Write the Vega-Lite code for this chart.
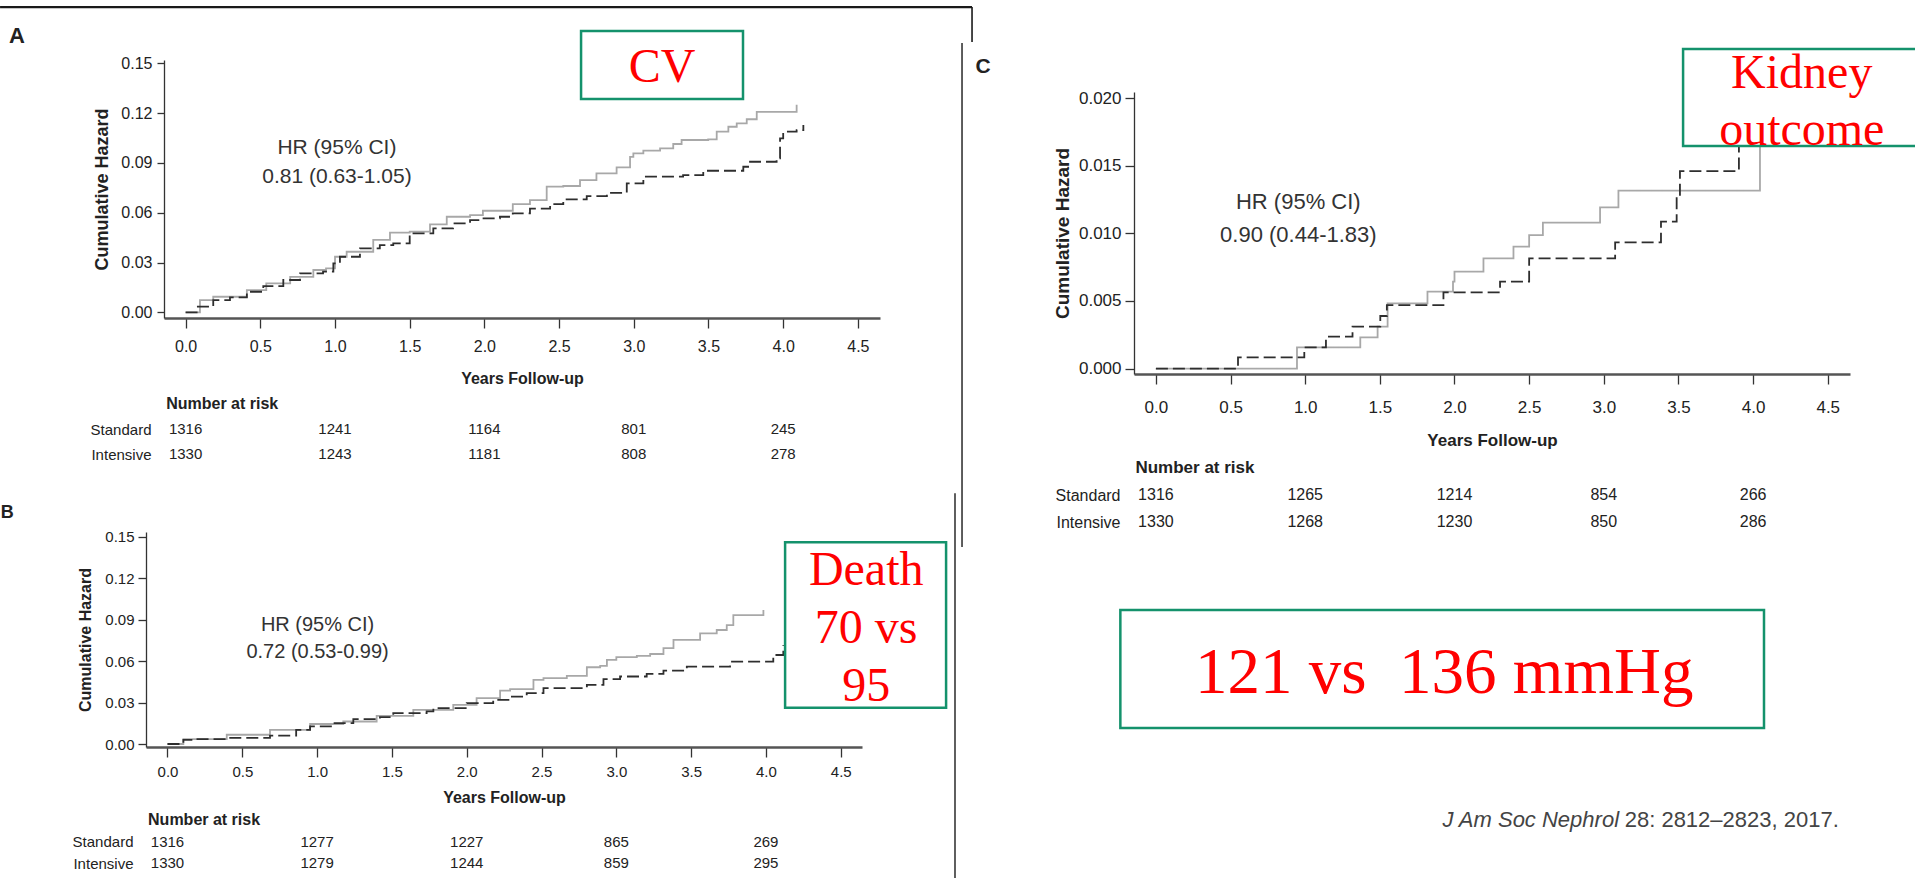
{
  "$schema": "https://vega.github.io/schema/vega-lite/v6.json",
  "width": 1915,
  "height": 878,
  "autosize": {"type": "none"},
  "padding": 0,
  "background": "#ffffff",
  "config": {
    "view": {"stroke": null},
    "font": "Liberation Sans",
    "axis": {"grid": false, "labelFont": "Liberation Sans", "titleFont": "Liberation Sans", "labelColor": "#222222", "titleColor": "#222222", "tickColor": "#333333", "domainColor": "#333333", "labelFlush": false, "labelOverlap": false}
  },
  "datasets": {
    "km": [
      {"p":"A","arm":"Standard","t":0,"h":0},{"p":"A","arm":"Standard","t":0.096,"h":0.0074},{"p":"A","arm":"Standard","t":0.185,"h":0.0094},{"p":"A","arm":"Standard","t":0.41,"h":0.0134},{"p":"A","arm":"Standard","t":0.54,"h":0.0175},{"p":"A","arm":"Standard","t":0.7,"h":0.0214},{"p":"A","arm":"Standard","t":0.855,"h":0.0255},{"p":"A","arm":"Standard","t":0.94,"h":0.0265},{"p":"A","arm":"Standard","t":1.0,"h":0.0335},{"p":"A","arm":"Standard","t":1.078,"h":0.0365},{"p":"A","arm":"Standard","t":1.256,"h":0.0436},{"p":"A","arm":"Standard","t":1.368,"h":0.048},{"p":"A","arm":"Standard","t":1.5,"h":0.0486},{"p":"A","arm":"Standard","t":1.636,"h":0.053},{"p":"A","arm":"Standard","t":1.748,"h":0.0576},{"p":"A","arm":"Standard","t":1.904,"h":0.0586},{"p":"A","arm":"Standard","t":1.99,"h":0.0612},{"p":"A","arm":"Standard","t":2.19,"h":0.0652},{"p":"A","arm":"Standard","t":2.305,"h":0.0676},{"p":"A","arm":"Standard","t":2.417,"h":0.0757},{"p":"A","arm":"Standard","t":2.528,"h":0.0761},{"p":"A","arm":"Standard","t":2.64,"h":0.0797},{"p":"A","arm":"Standard","t":2.75,"h":0.0837},{"p":"A","arm":"Standard","t":2.885,"h":0.0873},{"p":"A","arm":"Standard","t":2.975,"h":0.0937},{"p":"A","arm":"Standard","t":2.997,"h":0.0958},{"p":"A","arm":"Standard","t":3.064,"h":0.0974},{"p":"A","arm":"Standard","t":3.176,"h":0.0988},{"p":"A","arm":"Standard","t":3.264,"h":0.1014},{"p":"A","arm":"Standard","t":3.32,"h":0.1038},{"p":"A","arm":"Standard","t":3.498,"h":0.1042},{"p":"A","arm":"Standard","t":3.555,"h":0.1088},{"p":"A","arm":"Standard","t":3.633,"h":0.1118},{"p":"A","arm":"Standard","t":3.689,"h":0.1138},{"p":"A","arm":"Standard","t":3.756,"h":0.1163},{"p":"A","arm":"Standard","t":3.823,"h":0.1208},{"p":"A","arm":"Standard","t":4.09,"h":0.1208},{"p":"A","arm":"Standard","t":4.09,"h":0.125},
      {"p":"A","arm":"Intensive","t":0,"h":0},{"p":"A","arm":"Intensive","t":0.074,"h":0.0034},{"p":"A","arm":"Intensive","t":0.185,"h":0.0074},{"p":"A","arm":"Intensive","t":0.297,"h":0.009},{"p":"A","arm":"Intensive","t":0.41,"h":0.0124},{"p":"A","arm":"Intensive","t":0.52,"h":0.0158},{"p":"A","arm":"Intensive","t":0.654,"h":0.0195},{"p":"A","arm":"Intensive","t":0.766,"h":0.0235},{"p":"A","arm":"Intensive","t":0.92,"h":0.0245},{"p":"A","arm":"Intensive","t":0.989,"h":0.0295},{"p":"A","arm":"Intensive","t":1.033,"h":0.0335},{"p":"A","arm":"Intensive","t":1.167,"h":0.0385},{"p":"A","arm":"Intensive","t":1.3,"h":0.0405},{"p":"A","arm":"Intensive","t":1.39,"h":0.0415},{"p":"A","arm":"Intensive","t":1.5,"h":0.0476},{"p":"A","arm":"Intensive","t":1.658,"h":0.0506},{"p":"A","arm":"Intensive","t":1.79,"h":0.0536},{"p":"A","arm":"Intensive","t":1.904,"h":0.0556},{"p":"A","arm":"Intensive","t":1.97,"h":0.0566},{"p":"A","arm":"Intensive","t":2.104,"h":0.0576},{"p":"A","arm":"Intensive","t":2.19,"h":0.0596},{"p":"A","arm":"Intensive","t":2.305,"h":0.0625},{"p":"A","arm":"Intensive","t":2.44,"h":0.0652},{"p":"A","arm":"Intensive","t":2.528,"h":0.068},{"p":"A","arm":"Intensive","t":2.685,"h":0.07},{"p":"A","arm":"Intensive","t":2.82,"h":0.072},{"p":"A","arm":"Intensive","t":2.953,"h":0.0777},{"p":"A","arm":"Intensive","t":3.064,"h":0.0817},{"p":"A","arm":"Intensive","t":3.33,"h":0.0827},{"p":"A","arm":"Intensive","t":3.465,"h":0.0853},{"p":"A","arm":"Intensive","t":3.733,"h":0.0877},{"p":"A","arm":"Intensive","t":3.778,"h":0.0907},{"p":"A","arm":"Intensive","t":3.956,"h":0.0928},{"p":"A","arm":"Intensive","t":3.979,"h":0.1048},{"p":"A","arm":"Intensive","t":4.0,"h":0.1088},{"p":"A","arm":"Intensive","t":4.09,"h":0.1098},{"p":"A","arm":"Intensive","t":4.135,"h":0.1128},
      {"p":"B","arm":"Standard","t":0,"h":0},{"p":"B","arm":"Standard","t":0.106,"h":0.0036},{"p":"B","arm":"Standard","t":0.396,"h":0.0067},{"p":"B","arm":"Standard","t":0.685,"h":0.0103},{"p":"B","arm":"Standard","t":0.953,"h":0.0145},{"p":"B","arm":"Standard","t":1.175,"h":0.0163},{"p":"B","arm":"Standard","t":1.398,"h":0.0204},{"p":"B","arm":"Standard","t":1.643,"h":0.0248},{"p":"B","arm":"Standard","t":1.91,"h":0.0284},{"p":"B","arm":"Standard","t":2.066,"h":0.0332},{"p":"B","arm":"Standard","t":2.223,"h":0.0387},{"p":"B","arm":"Standard","t":2.29,"h":0.0397},{"p":"B","arm":"Standard","t":2.446,"h":0.0465},{"p":"B","arm":"Standard","t":2.513,"h":0.0477},{"p":"B","arm":"Standard","t":2.669,"h":0.0494},{"p":"B","arm":"Standard","t":2.803,"h":0.0556},{"p":"B","arm":"Standard","t":2.892,"h":0.0566},{"p":"B","arm":"Standard","t":2.937,"h":0.061},{"p":"B","arm":"Standard","t":3.0,"h":0.0629},{"p":"B","arm":"Standard","t":3.137,"h":0.0638},{"p":"B","arm":"Standard","t":3.226,"h":0.0652},{"p":"B","arm":"Standard","t":3.315,"h":0.0694},{"p":"B","arm":"Standard","t":3.382,"h":0.0754},{"p":"B","arm":"Standard","t":3.56,"h":0.0802},{"p":"B","arm":"Standard","t":3.671,"h":0.0826},{"p":"B","arm":"Standard","t":3.738,"h":0.0862},{"p":"B","arm":"Standard","t":3.782,"h":0.0934},{"p":"B","arm":"Standard","t":3.983,"h":0.0934},{"p":"B","arm":"Standard","t":3.983,"h":0.097},
      {"p":"B","arm":"Intensive","t":0,"h":0},{"p":"B","arm":"Intensive","t":0.106,"h":0.003},{"p":"B","arm":"Intensive","t":0.172,"h":0.0036},{"p":"B","arm":"Intensive","t":0.396,"h":0.0045},{"p":"B","arm":"Intensive","t":0.685,"h":0.006},{"p":"B","arm":"Intensive","t":0.86,"h":0.0103},{"p":"B","arm":"Intensive","t":0.953,"h":0.0128},{"p":"B","arm":"Intensive","t":1.108,"h":0.0151},{"p":"B","arm":"Intensive","t":1.242,"h":0.018},{"p":"B","arm":"Intensive","t":1.42,"h":0.0195},{"p":"B","arm":"Intensive","t":1.509,"h":0.0224},{"p":"B","arm":"Intensive","t":1.732,"h":0.0236},{"p":"B","arm":"Intensive","t":1.777,"h":0.026},{"p":"B","arm":"Intensive","t":2.0,"h":0.0296},{"p":"B","arm":"Intensive","t":2.177,"h":0.032},{"p":"B","arm":"Intensive","t":2.29,"h":0.0344},{"p":"B","arm":"Intensive","t":2.401,"h":0.0368},{"p":"B","arm":"Intensive","t":2.513,"h":0.0405},{"p":"B","arm":"Intensive","t":2.803,"h":0.0428},{"p":"B","arm":"Intensive","t":2.914,"h":0.047},{"p":"B","arm":"Intensive","t":3.025,"h":0.0489},{"p":"B","arm":"Intensive","t":3.203,"h":0.0508},{"p":"B","arm":"Intensive","t":3.315,"h":0.0532},{"p":"B","arm":"Intensive","t":3.471,"h":0.0561},{"p":"B","arm":"Intensive","t":3.76,"h":0.0597},{"p":"B","arm":"Intensive","t":4.049,"h":0.0645},{"p":"B","arm":"Intensive","t":4.116,"h":0.0717},
      {"p":"C","arm":"Standard","t":0,"h":0},{"p":"C","arm":"Standard","t":0.945,"h":0.00157},{"p":"C","arm":"Standard","t":1.369,"h":0.00231},{"p":"C","arm":"Standard","t":1.485,"h":0.0031},{"p":"C","arm":"Standard","t":1.552,"h":0.00483},{"p":"C","arm":"Standard","t":1.819,"h":0.00569},{"p":"C","arm":"Standard","t":1.99,"h":0.00643},{"p":"C","arm":"Standard","t":2.0,"h":0.00717},{"p":"C","arm":"Standard","t":2.194,"h":0.00816},{"p":"C","arm":"Standard","t":2.395,"h":0.00902},{"p":"C","arm":"Standard","t":2.5,"h":0.00988},{"p":"C","arm":"Standard","t":2.592,"h":0.0108},{"p":"C","arm":"Standard","t":2.975,"h":0.01193},{"p":"C","arm":"Standard","t":3.098,"h":0.01316},{"p":"C","arm":"Standard","t":4.046,"h":0.0178},
      {"p":"C","arm":"Intensive","t":0,"h":0},{"p":"C","arm":"Intensive","t":0.55,"h":0.00083},{"p":"C","arm":"Intensive","t":0.994,"h":0.00157},{"p":"C","arm":"Intensive","t":1.139,"h":0.00236},{"p":"C","arm":"Intensive","t":1.317,"h":0.0031},{"p":"C","arm":"Intensive","t":1.503,"h":0.00389},{"p":"C","arm":"Intensive","t":1.547,"h":0.0047},{"p":"C","arm":"Intensive","t":1.926,"h":0.00564},{"p":"C","arm":"Intensive","t":2.305,"h":0.00643},{"p":"C","arm":"Intensive","t":2.5,"h":0.00816},{"p":"C","arm":"Intensive","t":3.076,"h":0.00934},{"p":"C","arm":"Intensive","t":3.383,"h":0.01087},{"p":"C","arm":"Intensive","t":3.488,"h":0.01271},{"p":"C","arm":"Intensive","t":3.51,"h":0.01461},{"p":"C","arm":"Intensive","t":3.905,"h":0.0172}
    ],
    "risk": [
      {"p":"A","arm":"Standard","t":0,"n":1316},{"p":"A","arm":"Standard","t":1,"n":1241},{"p":"A","arm":"Standard","t":2,"n":1164},{"p":"A","arm":"Standard","t":3,"n":801},{"p":"A","arm":"Standard","t":4,"n":245},
      {"p":"A","arm":"Intensive","t":0,"n":1330},{"p":"A","arm":"Intensive","t":1,"n":1243},{"p":"A","arm":"Intensive","t":2,"n":1181},{"p":"A","arm":"Intensive","t":3,"n":808},{"p":"A","arm":"Intensive","t":4,"n":278},
      {"p":"B","arm":"Standard","t":0,"n":1316},{"p":"B","arm":"Standard","t":1,"n":1277},{"p":"B","arm":"Standard","t":2,"n":1227},{"p":"B","arm":"Standard","t":3,"n":865},{"p":"B","arm":"Standard","t":4,"n":269},
      {"p":"B","arm":"Intensive","t":0,"n":1330},{"p":"B","arm":"Intensive","t":1,"n":1279},{"p":"B","arm":"Intensive","t":2,"n":1244},{"p":"B","arm":"Intensive","t":3,"n":859},{"p":"B","arm":"Intensive","t":4,"n":295},
      {"p":"C","arm":"Standard","t":0,"n":1316},{"p":"C","arm":"Standard","t":1,"n":1265},{"p":"C","arm":"Standard","t":2,"n":1214},{"p":"C","arm":"Standard","t":3,"n":854},{"p":"C","arm":"Standard","t":4,"n":266},
      {"p":"C","arm":"Intensive","t":0,"n":1330},{"p":"C","arm":"Intensive","t":1,"n":1268},{"p":"C","arm":"Intensive","t":2,"n":1230},{"p":"C","arm":"Intensive","t":3,"n":850},{"p":"C","arm":"Intensive","t":4,"n":286}
    ]
  },
  "layer": [
    {
      "layer": [
        {
          "layer": [
            {
              "data": {"name": "km"},
              "transform": [{"filter": "datum.p === 'A'"}],
              "mark": {"type": "line", "interpolate": "step-after", "strokeWidth": 1.8},
              "encoding": {
                "x": {"field": "t", "type": "quantitative", "scale": {"domain": [-0.1446, 4.648], "range": [164, 880], "nice": false, "zero": false},
                  "axis": {"orient": "bottom", "offset": -560, "values": [0,0.5,1,1.5,2,2.5,3,3.5,4,4.5], "format": ".1f", "title": "Years Follow-up", "titleFontWeight": "bold", "titleFontSize": 16, "titlePadding": 16, "labelFontSize": 16, "labelPadding": 10, "tickSize": 10, "tickWidth": 1.3, "domainColor": "#555555", "domainWidth": 2.5}},
                "y": {"field": "h", "type": "quantitative", "scale": {"domain": [-0.0034, 0.152], "range": [318, 60], "nice": false, "zero": false},
                  "axis": {"orient": "left", "offset": -164, "values": [0,0.03,0.06,0.09,0.12,0.15], "format": ".2f", "title": "Cumulative Hazard", "titleFontWeight": "bold", "titleFontSize": 18, "titlePadding": 9, "labelFontSize": 16, "labelPadding": 5, "tickSize": 7, "tickWidth": 1.3, "domainWidth": 1.3}},
                "color": {"field": "arm", "type": "nominal", "scale": {"domain": ["Standard","Intensive"], "range": ["#a8a8a8","#2e2e2e"]}, "legend": null},
                "strokeDash": {"field": "arm", "type": "nominal", "scale": {"domain": ["Standard","Intensive"], "range": [[1,0],[12,5]]}, "legend": null}
              }
            },
            {"data": {"values": [{}]}, "mark": {"type": "text", "fontSize": 21, "color": "#333333", "lineHeight": 29, "baseline": "middle", "align": "center"},
              "encoding": {"x": {"datum": 1.013}, "y": {"datum": 0.099}, "text": {"value": ["HR (95% CI)", "0.81 (0.63-1.05)"]}}},
            {"data": {"values": [{}]}, "mark": {"type": "rect", "fill": "#ffffff", "stroke": "#14926c", "strokeWidth": 2.5},
              "encoding": {"x": {"datum": 2.647}, "x2": {"datum": 3.731}, "y": {"datum": 0.1695}, "y2": {"datum": 0.1285}}},
            {"data": {"values": [{}]}, "mark": {"type": "text", "font": "Liberation Serif", "fontSize": 48, "color": "#ff0000", "baseline": "alphabetic", "align": "center"},
              "encoding": {"x": {"datum": 3.19}, "y": {"datum": 0.1387}, "text": {"value": "CV"}}},
            {"data": {"values": [{}]}, "mark": {"type": "text", "fontSize": 22, "fontWeight": "bold", "color": "#222222", "baseline": "alphabetic", "align": "left"},
              "encoding": {"x": {"datum": -1.182}, "y": {"datum": 0.1622}, "text": {"value": "A"}}},
            {"data": {"values": [{}]}, "mark": {"type": "rule", "color": "#1a1a1a", "strokeWidth": 2.2},
              "encoding": {"x": {"datum": -1.242}, "x2": {"datum": 5.264}, "y": {"datum": 0.1839}}},
            {"data": {"values": [{}]}, "mark": {"type": "rule", "color": "#1a1a1a", "strokeWidth": 1.6},
              "encoding": {"x": {"datum": 5.264}, "y": {"datum": 0.1839}, "y2": {"datum": 0.1628}}},
            {"data": {"values": [{}]}, "mark": {"type": "rule", "color": "#1a1a1a", "strokeWidth": 1.4},
              "encoding": {"x": {"datum": 5.197}, "y": {"datum": 0.1622}, "y2": {"datum": -0.1414}}},
            {"data": {"values": [{}]}, "mark": {"type": "rule", "color": "#1a1a1a", "strokeWidth": 1.4},
              "encoding": {"x": {"datum": 5.15}, "y": {"datum": -0.1089}, "y2": {"datum": -0.3408}}}
          ]
        },
        {
          "layer": [
            {
              "data": {"name": "risk"},
              "transform": [{"filter": "datum.p === 'A'"}],
              "mark": {"type": "text", "fontSize": 15, "color": "#222222", "baseline": "middle", "align": "center"},
              "encoding": {
                "x": {"field": "t", "type": "quantitative"},
                "y": {"field": "arm", "type": "nominal", "scale": {"type": "point", "domain": ["Number at risk","Standard","Intensive"], "range": [404, 454], "padding": 0},
                  "axis": {"orient": "left", "offset": -164, "values": ["Standard","Intensive"], "title": null, "domain": false, "ticks": false, "tickSize": 0, "labelPadding": 13, "labelFontSize": 15}},
                "text": {"field": "n", "type": "quantitative"}
              }
            },
            {"data": {"values": [{}]}, "mark": {"type": "text", "fontSize": 16, "fontWeight": "bold", "color": "#222222", "baseline": "middle", "align": "left"},
              "encoding": {"x": {"datum": -0.13}, "y": {"datum": "Number at risk", "type": "nominal"}, "text": {"value": "Number at risk"}}}
          ]
        }
      ],
      "resolve": {"scale": {"y": "independent"}, "axis": {"y": "independent"}}
    },
    {
      "layer": [
        {
          "layer": [
            {
              "data": {"name": "km"},
              "transform": [{"filter": "datum.p === 'B'"}],
              "mark": {"type": "line", "interpolate": "step-after", "strokeWidth": 1.8},
              "encoding": {
                "x": {"field": "t", "type": "quantitative", "scale": {"domain": [-0.1437, 4.642], "range": [146, 862], "nice": false, "zero": false},
                  "axis": {"orient": "bottom", "offset": -131, "values": [0,0.5,1,1.5,2,2.5,3,3.5,4,4.5], "format": ".1f", "title": "Years Follow-up", "titleFontWeight": "bold", "titleFontSize": 16, "titlePadding": 10, "labelFontSize": 15, "labelPadding": 7, "tickSize": 10, "tickWidth": 1.3, "domainColor": "#555555", "domainWidth": 2.5}},
                "y": {"field": "h", "type": "quantitative", "scale": {"domain": [-0.00217, 0.1536], "range": [747, 532], "nice": false, "zero": false},
                  "axis": {"orient": "left", "offset": -146, "values": [0,0.03,0.06,0.09,0.12,0.15], "format": ".2f", "title": "Cumulative Hazard", "titleFontWeight": "bold", "titleFontSize": 16, "titlePadding": 11, "labelFontSize": 15, "labelPadding": 4, "tickSize": 8, "tickWidth": 1.3, "domainWidth": 1.3}},
                "color": {"field": "arm", "type": "nominal", "scale": {"domain": ["Standard","Intensive"], "range": ["#a8a8a8","#2e2e2e"]}, "legend": null},
                "strokeDash": {"field": "arm", "type": "nominal", "scale": {"domain": ["Standard","Intensive"], "range": [[1,0],[12,5]]}, "legend": null}
              }
            },
            {"data": {"values": [{}]}, "mark": {"type": "text", "fontSize": 20, "color": "#333333", "lineHeight": 27, "baseline": "middle", "align": "center"},
              "encoding": {"x": {"datum": 1.003}, "y": {"datum": 0.0862}, "text": {"value": ["HR (95% CI)", "0.72 (0.53-0.99)"]}}},
            {"data": {"values": [{}]}, "mark": {"type": "rect", "fill": "#ffffff", "stroke": "#14926c", "strokeWidth": 2.5},
              "encoding": {"x": {"datum": 4.128}, "x2": {"datum": 5.204}, "y": {"datum": 0.1462}, "y2": {"datum": 0.0262}}},
            {"data": {"values": [{}]}, "mark": {"type": "text", "font": "Liberation Serif", "fontSize": 48, "color": "#ff0000", "baseline": "alphabetic", "align": "center"},
              "encoding": {"x": {"datum": 4.67}, "y": {"datum": 0.1151}, "text": {"value": "Death"}}},
            {"data": {"values": [{}]}, "mark": {"type": "text", "font": "Liberation Serif", "fontSize": 48, "color": "#ff0000", "baseline": "alphabetic", "align": "center"},
              "encoding": {"x": {"datum": 4.67}, "y": {"datum": 0.0732}, "text": {"value": "70 vs"}}},
            {"data": {"values": [{}]}, "mark": {"type": "text", "font": "Liberation Serif", "fontSize": 48, "color": "#ff0000", "baseline": "alphabetic", "align": "center"},
              "encoding": {"x": {"datum": 4.67}, "y": {"datum": 0.0313}, "text": {"value": "95"}}},
            {"data": {"values": [{}]}, "mark": {"type": "text", "fontSize": 18, "fontWeight": "bold", "color": "#222222", "baseline": "alphabetic", "align": "left"},
              "encoding": {"x": {"datum": -1.115}, "y": {"datum": 0.1635}, "text": {"value": "B"}}}
          ]
        },
        {
          "layer": [
            {
              "data": {"name": "risk"},
              "transform": [{"filter": "datum.p === 'B'"}],
              "mark": {"type": "text", "fontSize": 15, "color": "#222222", "baseline": "middle", "align": "center"},
              "encoding": {
                "x": {"field": "t", "type": "quantitative"},
                "y": {"field": "arm", "type": "nominal", "scale": {"type": "point", "domain": ["Number at risk","Standard","Intensive"], "range": [820, 863], "padding": 0},
                  "axis": {"orient": "left", "offset": -146, "values": ["Standard","Intensive"], "title": null, "domain": false, "ticks": false, "tickSize": 0, "labelPadding": 13, "labelFontSize": 15}},
                "text": {"field": "n", "type": "quantitative"}
              }
            },
            {"data": {"values": [{}]}, "mark": {"type": "text", "fontSize": 16, "fontWeight": "bold", "color": "#222222", "baseline": "middle", "align": "left"},
              "encoding": {"x": {"datum": -0.13}, "y": {"datum": "Number at risk", "type": "nominal"}, "text": {"value": "Number at risk"}}}
          ]
        }
      ],
      "resolve": {"scale": {"y": "independent"}, "axis": {"y": "independent"}}
    },
    {
      "layer": [
        {
          "layer": [
            {
              "data": {"name": "km"},
              "transform": [{"filter": "datum.p === 'C'"}],
              "mark": {"type": "line", "interpolate": "step-after", "strokeWidth": 1.8},
              "encoding": {
                "x": {"field": "t", "type": "quantitative", "scale": {"domain": [-0.1466, 4.649], "range": [1134, 1850], "nice": false, "zero": false},
                  "axis": {"orient": "bottom", "offset": -504, "values": [0,0.5,1,1.5,2,2.5,3,3.5,4,4.5], "format": ".1f", "title": "Years Follow-up", "titleFontWeight": "bold", "titleFontSize": 17, "titlePadding": 17, "labelFontSize": 17, "labelPadding": 15, "tickSize": 10, "tickWidth": 1.3, "domainColor": "#555555", "domainWidth": 2.5}},
                "y": {"field": "h", "type": "quantitative", "scale": {"domain": [-0.0004, 0.02046], "range": [374, 92], "nice": false, "zero": false},
                  "axis": {"orient": "left", "offset": -1134, "values": [0,0.005,0.01,0.015,0.02], "format": ".3f", "title": "Cumulative Hazard", "titleFontWeight": "bold", "titleFontSize": 19, "titlePadding": 6, "labelFontSize": 17, "labelPadding": 4, "tickSize": 9, "tickWidth": 1.3, "domainWidth": 1.3}},
                "color": {"field": "arm", "type": "nominal", "scale": {"domain": ["Standard","Intensive"], "range": ["#a8a8a8","#2e2e2e"]}, "legend": null},
                "strokeDash": {"field": "arm", "type": "nominal", "scale": {"domain": ["Standard","Intensive"], "range": [[1,0],[12,5]]}, "legend": null}
              }
            },
            {"data": {"values": [{}]}, "mark": {"type": "text", "fontSize": 22, "color": "#333333", "lineHeight": 33, "baseline": "middle", "align": "center"},
              "encoding": {"x": {"datum": 0.954}, "y": {"datum": 0.01232}, "text": {"value": ["HR (95% CI)", "0.90 (0.44-1.83)"]}}},
            {"data": {"values": [{}]}, "mark": {"type": "rect", "fill": "#ffffff", "stroke": "#14926c", "strokeWidth": 2.5},
              "encoding": {"x": {"datum": 3.531}, "x2": {"datum": 5.4}, "y": {"datum": 0.02364}, "y2": {"datum": 0.01646}}},
            {"data": {"values": [{}]}, "mark": {"type": "text", "font": "Liberation Serif", "fontSize": 48, "color": "#ff0000", "baseline": "alphabetic", "align": "center"},
              "encoding": {"x": {"datum": 4.326}, "y": {"datum": 0.02075}, "text": {"value": "Kidney"}}},
            {"data": {"values": [{}]}, "mark": {"type": "text", "font": "Liberation Serif", "fontSize": 48, "color": "#ff0000", "baseline": "alphabetic", "align": "center"},
              "encoding": {"x": {"datum": 4.326}, "y": {"datum": 0.01653}, "text": {"value": "outcome"}}},
            {"data": {"values": [{}]}, "mark": {"type": "text", "fontSize": 21, "fontWeight": "bold", "color": "#222222", "baseline": "alphabetic", "align": "left"},
              "encoding": {"x": {"datum": -1.208}, "y": {"datum": 0.02186}, "text": {"value": "C"}}},
            {"data": {"values": [{}]}, "mark": {"type": "rect", "fill": "#ffffff", "stroke": "#14926c", "strokeWidth": 2.5},
              "encoding": {"x": {"datum": -0.238}, "x2": {"datum": 4.073}, "y": {"datum": -0.01786}, "y2": {"datum": -0.02658}}},
            {"data": {"values": [{}]}, "mark": {"type": "text", "font": "Liberation Serif", "fontSize": 65, "color": "#ff0000", "baseline": "alphabetic", "align": "center"},
              "encoding": {"x": {"datum": 1.931}, "y": {"datum": -0.024}, "text": {"value": "121 vs\u00a0 136 mmHg"}}},
            {"data": {"values": [{}]}, "mark": {"type": "text", "fontSize": 22, "fontStyle": "italic", "color": "#444444", "baseline": "alphabetic", "align": "right"},
              "encoding": {"x": {"datum": 3.102}, "y": {"datum": -0.0339}, "text": {"value": "J Am Soc Nephrol"}}},
            {"data": {"values": [{}]}, "mark": {"type": "text", "fontSize": 22, "color": "#444444", "baseline": "alphabetic", "align": "left"},
              "encoding": {"x": {"datum": 3.14}, "y": {"datum": -0.0339}, "text": {"value": "28: 2812–2823, 2017."}}}
          ]
        },
        {
          "layer": [
            {
              "data": {"name": "risk"},
              "transform": [{"filter": "datum.p === 'C'"}],
              "mark": {"type": "text", "fontSize": 16, "color": "#222222", "baseline": "middle", "align": "center"},
              "encoding": {
                "x": {"field": "t", "type": "quantitative"},
                "y": {"field": "arm", "type": "nominal", "scale": {"type": "point", "domain": ["Number at risk","Standard","Intensive"], "range": [468, 522], "padding": 0},
                  "axis": {"orient": "left", "offset": -1134, "values": ["Standard","Intensive"], "title": null, "domain": false, "ticks": false, "tickSize": 0, "labelPadding": 14, "labelFontSize": 16}},
                "text": {"field": "n", "type": "quantitative"}
              }
            },
            {"data": {"values": [{}]}, "mark": {"type": "text", "fontSize": 17, "fontWeight": "bold", "color": "#222222", "baseline": "middle", "align": "left"},
              "encoding": {"x": {"datum": -0.137}, "y": {"datum": "Number at risk", "type": "nominal"}, "text": {"value": "Number at risk"}}}
          ]
        }
      ],
      "resolve": {"scale": {"y": "independent"}, "axis": {"y": "independent"}}
    }
  ],
  "resolve": {"scale": {"x": "independent", "y": "independent"}, "axis": {"x": "independent", "y": "independent"}}
}
